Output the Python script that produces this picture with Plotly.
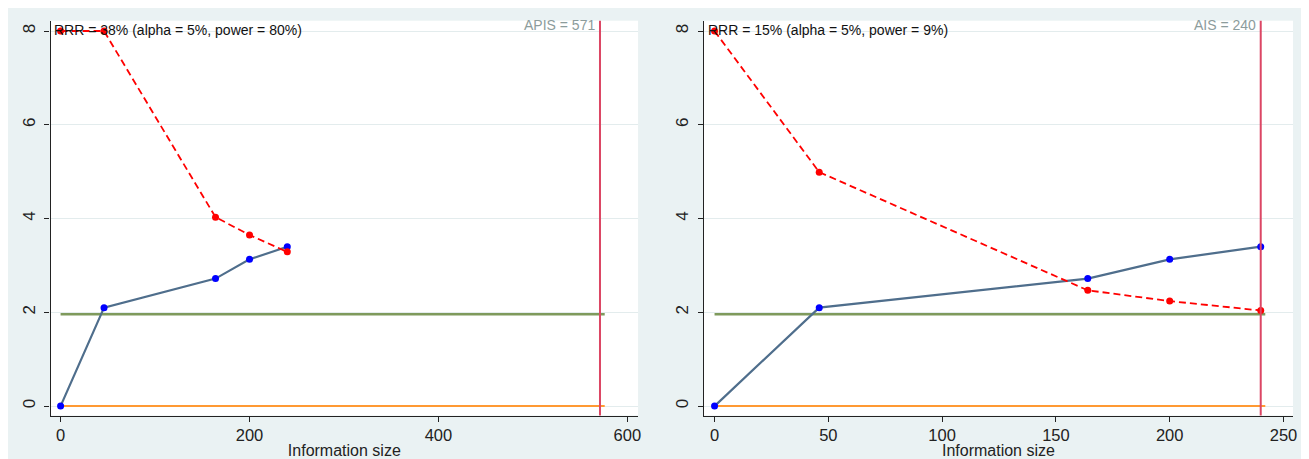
import plotly.graph_objects as go

# ---- data ----
info_size = [0, 46, 164, 200, 240]
z_curve = [0, 2.10, 2.72, 3.13, 3.40]
boundary_left = [8, 8, 4.03, 3.65, 3.29]
boundary_right = [8, 4.99, 2.47, 2.24, 2.04]
z_crit = 1.96
apis = 571
ais = 240
line_end_left = 576
line_end_right = 242
xticks_left = [0, 200, 400, 600]
xticks_right = [0, 50, 100, 150, 200, 250]
yticks = [0, 2, 4, 6, 8]
label_left = "RRR = 38% (alpha = 5%, power = 80%)"
label_right = "RRR = 15% (alpha = 5%, power = 9%)"
is_label_left = "APIS = 571"
is_label_right = "AIS = 240"

# page is offset by the 8px body margin
OFF = 8
W, H = 1309 - OFF, 459 - OFF
BG = "#eaf2f3"
BLUE_LINE = "#4f6e8c"
RED = "#ff0000"
GREEN = "#7f9a5c"
ORANGE = "#ff9933"
VLINE = "#dc4664"
AX = "#222222"
FONT = "Liberation Sans, Arial, sans-serif"


def px_x(p):
    return (p - OFF) / W


def px_y(p):
    return 1 - (p - OFF) / H


fig = go.Figure()

panels = [
    ("x", "y", boundary_left, line_end_left, apis, label_left, is_label_left),
    ("x2", "y2", boundary_right, line_end_right, ais, label_right, is_label_right),
]

for xa, ya, bound, lend, req, lab, islab in panels:
    fig.add_trace(go.Scatter(x=[0, lend], y=[0, 0], mode="lines",
                             line=dict(color=ORANGE, width=2),
                             xaxis=xa, yaxis=ya, showlegend=False, hoverinfo="skip"))
    fig.add_trace(go.Scatter(x=[0, lend], y=[z_crit, z_crit], mode="lines",
                             line=dict(color=GREEN, width=2.5),
                             xaxis=xa, yaxis=ya, showlegend=False, hoverinfo="skip"))
    fig.add_shape(type="line", x0=req, x1=req, y0=0, y1=1,
                  xref=xa, yref=f"{ya} domain",
                  line=dict(color=VLINE, width=2))
    fig.add_trace(go.Scatter(x=info_size, y=z_curve, mode="lines+markers",
                             line=dict(color=BLUE_LINE, width=2.2),
                             marker=dict(color="#0000ff", size=7),
                             xaxis=xa, yaxis=ya, showlegend=False))
    fig.add_trace(go.Scatter(x=info_size, y=bound, mode="lines+markers",
                             line=dict(color=RED, width=1.8, dash="7px,4px"),
                             marker=dict(color=RED, size=7),
                             xaxis=xa, yaxis=ya, showlegend=False))
    fig.add_annotation(text=lab, x=0.003, xref=f"{xa} domain", y=8.02, yref=ya,
                       xanchor="left", yanchor="middle", showarrow=False,
                       font=dict(family=FONT, size=14, color="#111111"))
    fig.add_annotation(text=islab, x=req, xref=xa, y=8.12, yref=ya,
                       xanchor="right", yanchor="middle", xshift=-3, showarrow=False,
                       font=dict(family=FONT, size=14, color="#8c9c9c"))

ydom = [px_y(415.5), px_y(20.7)]
common_x = dict(showline=True, linecolor=AX, linewidth=1.3, ticks="outside",
                ticklen=5, tickcolor=AX, tickwidth=1.3, showgrid=False, zeroline=False,
                tickfont=dict(family=FONT, size=16.5, color=AX),
                title=dict(text="Information size", standoff=2,
                           font=dict(family=FONT, size=16, color=AX)))
common_y = dict(showline=True, linecolor=AX, linewidth=1.3, ticks="outside",
                ticklen=5, tickcolor=AX, tickwidth=1.3, showgrid=True,
                gridcolor="#e3eced", gridwidth=1, zeroline=False,
                tickangle=-90, tickvals=yticks, range=[-0.2, 8.22], domain=ydom,
                tickfont=dict(family=FONT, size=17, color=AX), ticklabelstandoff=3)

fig.update_layout(
    width=W, height=H, autosize=False,
    margin=dict(l=0, r=0, t=0, b=0),
    paper_bgcolor=BG, plot_bgcolor="white",
    xaxis=dict(domain=[px_x(50.7), px_x(640)], range=[-10.6, 611.3],
               tickvals=xticks_left, anchor="y", **common_x),
    yaxis=dict(anchor="x", **common_y),
    xaxis2=dict(domain=[px_x(706), px_x(1297)], range=[-4.7, 254.2],
                tickvals=xticks_right, anchor="y2", **common_x),
    yaxis2=dict(anchor="x2", **common_y),
)

fig.write_html("out.html")
